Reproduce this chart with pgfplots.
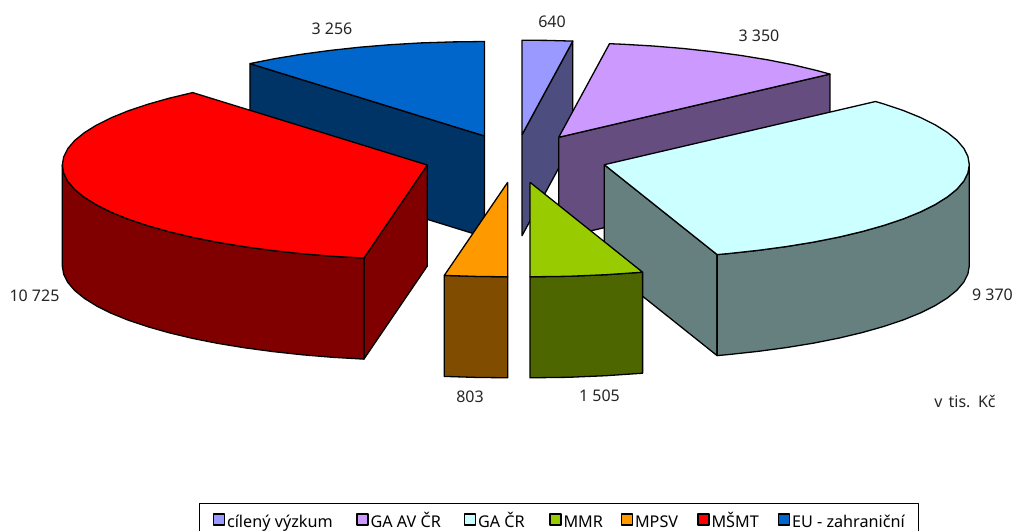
\documentclass[border=0pt]{standalone}
\usepackage{pgfplots}
\pgfplotsset{compat=1.18}
\usepackage{fontspec}
\setmainfont{Noto Sans}
\definecolor{cA}{HTML}{9999FF}\definecolor{sA}{HTML}{4D4D80}
\definecolor{cB}{HTML}{CC99FF}\definecolor{sB}{HTML}{664D80}
\definecolor{cC}{HTML}{CCFFFF}\definecolor{sC}{HTML}{668080}
\definecolor{cD}{HTML}{99CC00}\definecolor{sD}{HTML}{4D6600}
\definecolor{cE}{HTML}{FF9900}\definecolor{sE}{HTML}{804D00}
\definecolor{cF}{HTML}{FF0000}\definecolor{sF}{HTML}{800000}
\definecolor{cG}{HTML}{0066CC}\definecolor{sG}{HTML}{003366}
\newcommand{\lab}[2]{\makebox[#1pt][l]{\hspace*{2pt}\raisebox{0pt}[13pt][4pt]{#2}}}
\pgfplotsset{sw/.style={legend image code/.code={\draw[##1,draw=black,line width=1.5pt] (0pt,-3.5pt) rectangle (11pt,7.5pt);}}}
\begin{document}
\begin{tikzpicture}
\begin{axis}[
  name=ax,
  scale only axis, width=1014pt, height=531pt,
  xmin=0, xmax=1014, ymin=0, ymax=531, y dir=reverse,
  hide axis, clip=false,
  every axis plot/.append style={draw=black, line width=1.3pt, line join=round, mark=none},
  legend columns=7,
  legend style={draw=none, fill=none, at={(0.2096,0.0334)}, anchor=north west, inner sep=0pt, outer sep=0pt, font=\fontsize{16.2}{18}\selectfont,
    column sep=0pt, row sep=0pt, nodes={inner sep=0pt, outer sep=0pt, anchor=west}},
]
% 640: cileny vyzkum
\addplot[fill=sA, forget plot] coordinates {(522,134.7)(572.8,41.1)(572.8,142.1)(522,235.7)(522,134.7)};
\addplot[fill=cA, forget plot] coordinates {(522,134.7)(522,40.2)(547.5,40.4)(572.8,41.1)(522,134.7)};
% 3350: GA AV CR
\addplot[fill=sB, forget plot] coordinates {(558.7,137.3)(829.9,74.1)(829.9,175.1)(558.7,238.3)(558.7,137.3)};
\addplot[fill=cB, forget plot] coordinates {(558.7,137.3)(609.5,43.7)(622.1,44.2)(653.2,46.0)(683.5,48.5)(712.9,51.7)(741.2,55.5)(768.1,59.9)(793.3,64.9)(816.8,70.5)(829.9,74.1)(558.7,137.3)};
% 3256: EU
\addplot[fill=sG, forget plot] coordinates {(249.9,63.6)(484.5,136)(484.5,237)(249.9,164.6)(249.9,63.6)};
\addplot[fill=cG, forget plot] coordinates {(484.5,136)(249.9,63.6)(275.1,58.6)(302,54.2)(330.3,50.4)(359.7,47.2)(390,44.7)(421.1,42.9)(452.7,41.9)(484.5,41.5)(484.5,136)};
% 9370: GA CR
\addplot[fill=sC, forget plot] coordinates {(604.3,164.7)(717.1,254.6)(717.1,355.6)(604.3,265.7)(604.3,164.7)};
\addplot[fill=sC, forget plot] coordinates {(969.3,164.7)(967.9,172.9)(963.8,181.1)(956.9,189.2)(947.3,197)(935.1,204.6)(920.4,211.95)(903.3,218.9)(883.9,225.4)(862.4,231.5)(838.9,237.1)(813.7,242.1)(786.8,246.5)(758.5,250.3)(729.1,253.5)(717.1,254.6)(717.1,355.6)(729.1,354.5)(758.5,351.3)(786.8,347.5)(813.7,343.1)(838.9,338.1)(862.4,332.5)(883.9,326.4)(903.3,319.9)(920.4,312.95)(935.1,305.6)(947.3,298)(956.9,290.2)(963.8,282.1)(967.9,273.9)(969.3,265.7)(969.3,164.7)};
\addplot[fill=cC, forget plot] coordinates {(604.3,164.7)(875.5,101.5)(883.9,104.0)(903.3,110.5)(920.4,117.45)(935.1,124.8)(947.3,132.4)(956.9,140.2)(963.8,148.3)(967.9,156.5)(969.3,164.7)(967.9,172.9)(963.8,181.1)(956.9,189.2)(947.3,197)(935.1,204.6)(920.4,211.95)(903.3,218.9)(883.9,225.4)(862.4,231.5)(838.9,237.1)(813.7,242.1)(786.8,246.5)(758.5,250.3)(729.1,253.5)(717.1,254.6)(604.3,164.7)};
% 1505: MMR
\addplot[fill=sD, forget plot] coordinates {(642.6,272.2)(605.9,274.7)(568.1,276.3)(530,276.8)(530,377.8)(568.1,377.3)(605.9,375.7)(642.6,373.2)(642.6,272.2)};
\addplot[fill=cD, forget plot] coordinates {(530,182.3)(642.6,272.2)(605.9,274.7)(568.1,276.3)(530,276.8)(530,182.3)};
% 10725: MSMT
\addplot[fill=sF, forget plot] coordinates {(427.3,165)(363.9,258.1)(363.9,359.1)(427.3,266)(427.3,165)};
\addplot[fill=sF, forget plot] coordinates {(62.3,165)(63.7,173.2)(67.8,181.4)(74.7,189.5)(84.3,197.3)(96.5,204.9)(111.2,212.25)(128.3,219.2)(147.7,225.7)(169.2,231.8)(192.7,237.4)(217.9,242.4)(244.8,246.8)(273.1,250.6)(302.5,253.8)(332.8,256.3)(363.9,258.1)(363.9,359.1)(332.8,357.3)(302.5,354.8)(273.1,351.6)(244.8,347.8)(217.9,343.4)(192.7,338.4)(169.2,332.8)(147.7,326.7)(128.3,320.2)(111.2,313.25)(96.5,305.9)(84.3,298.3)(74.7,290.5)(67.8,282.4)(63.7,274.2)(62.3,266)(62.3,165)};
\addplot[fill=cF, forget plot] coordinates {(427.3,165)(192.7,92.6)(169.2,98.2)(147.7,104.3)(128.3,110.8)(111.2,117.75)(96.5,125.1)(84.3,132.7)(74.7,140.5)(67.8,148.6)(63.7,156.8)(62.3,165)(63.7,173.2)(67.8,181.4)(74.7,189.5)(84.3,197.3)(96.5,204.9)(111.2,212.25)(128.3,219.2)(147.7,225.7)(169.2,231.8)(192.7,237.4)(217.9,242.4)(244.8,246.8)(273.1,250.6)(302.5,253.8)(332.8,256.3)(363.9,258.1)(427.3,165)};
% 803: MPSV
\addplot[fill=sE, forget plot] coordinates {(444.3,275.4)(475.9,276.4)(507.7,276.8)(507.7,377.8)(475.9,377.4)(444.3,376.4)(444.3,275.4)};
\addplot[fill=cE, forget plot] coordinates {(507.7,182.3)(444.3,275.4)(475.9,276.4)(507.7,276.8)(507.7,182.3)};
% legend frame (cut by the picture's lower edge)
\addplot[draw=black, line width=1pt, forget plot] coordinates {(199.5,531)(199.5,503.5)(918,503.5)(918,531)};
% legend
\addlegendimage{sw, fill=cA}\addlegendentry{\lab{131}{cílený výzkum}}
\addlegendimage{sw, fill=cB}\addlegendentry{\lab{95}{GA AV ČR}}
\addlegendimage{sw, fill=cC}\addlegendentry{\lab{73}{GA ČR}}
\addlegendimage{sw, fill=cD}\addlegendentry{\lab{59}{MMR}}
\addlegendimage{sw, fill=cE}\addlegendentry{\lab{64}{MPSV}}
\addlegendimage{sw, fill=cF}\addlegendentry{\lab{68}{MŠMT}}
\addlegendimage{sw, fill=cG}\addlegendentry{\lab{120}{EU - zahraniční}}
% value labels
\begin{scope}[every node/.style={font=\fontsize{16}{18}\selectfont, text=black!85, inner sep=0pt}]
\node at (axis cs:332,28.5) {3 256};
\node at (axis cs:552,21.5) {640};
\node at (axis cs:759,35.5) {3 350};
\node at (axis cs:992.5,295) {9 370};
\node at (axis cs:34.5,295.5) {10 725};
\node at (axis cs:470,397) {803};
\node at (axis cs:599.5,395.5) {1 505};
\node at (axis cs:965,401) {v\hspace{2pt} tis.\hspace{2pt} Kč};
\end{scope}
\end{axis}
\pgfresetboundingbox
\path (ax.south west) rectangle (ax.north east);
\end{tikzpicture}
\end{document}
